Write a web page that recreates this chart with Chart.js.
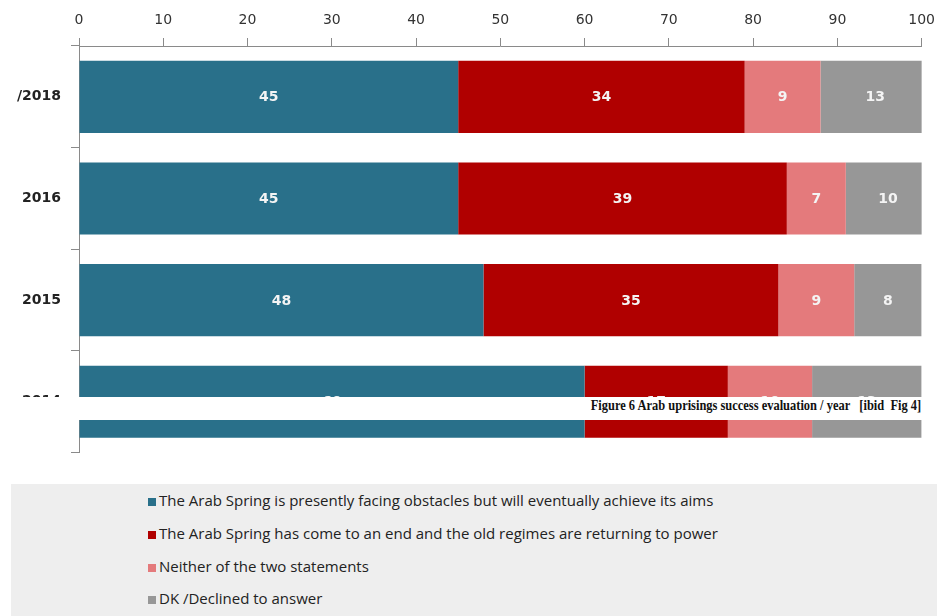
<html>
    <head>
        <meta name="viewport" content="width=device-width, initial-scale=1.0">
        <meta http-equiv="content-type" content="text/html; charset=UTF-8">
        <script src="https://cdn.jsdelivr.net/npm/chart.js"></script>
        <title>Arab uprisings success evaluation</title>
        <style>
            body { margin: 0; width: 937px; height: 616px; overflow: hidden; background: #fff; position: relative; }
            #wrap { position: absolute; left: 0; top: 0; width: 944px; height: 471px; }
            #caption { position: absolute; left: 0; top: 397px; width: 921px; padding-right: 16px; height: 23px;
                       background: #fff; text-align: right; white-space: pre; line-height: 23px; }
            #caption span { display: inline-block; transform: scaleX(0.83); transform-origin: right center;
                       font: bold 15px "Liberation Serif", "Times New Roman", serif; color: #111; }
            #legend { position: absolute; left: 11px; top: 484px; width: 926px; height: 132px; background: #eeeeee; }
            #legend div { position: absolute; left: 137px; height: 20px; line-height: 20px; white-space: nowrap;
                          font: 15px "Liberation Sans Narrow", "Open Sans", sans-serif; color: #222; }
            #legend span { display: inline-block; width: 8px; height: 8px; margin-right: 3px; vertical-align: 0px; }
        </style>
    </head>
    <body>
        <div id="wrap"><canvas id="bars"></canvas></div>
        <div id="caption"><span>Figure 6 Arab uprisings success evaluation / year   [ibid  Fig 4]</span></div>
        <div id="legend"></div>

        <script>
            // survey years (top label is cut off in the source)
            const years = ['/2018', '2016', '2015', '2014'];
            const achieve = [45, 45, 48, 60];
            const ended = [34, 39, 35, 17];
            const neither = [9, 7, 9, 10];
            const dk = [13, 10, 8, 13];

            const seriesNames = [
                'The Arab Spring is presently facing obstacles but will eventually achieve its aims',
                'The Arab Spring has come to an end and the old regimes are returning to power',
                'Neither of the two statements',
                'DK /Declined to answer'
            ];
            const colors = ['#29708a', '#b00000', '#e47a7c', '#979797'];
            const xTicks = [0, 10, 20, 30, 40, 50, 60, 70, 80, 90, 100];

            // values written in the middle of each segment
            const valueLabels = {
                id: 'valueLabels',
                afterDatasetsDraw(chart) {
                    const ctx = chart.ctx;
                    ctx.save();
                    ctx.font = 'bold 14px "DejaVu Sans"';
                    ctx.fillStyle = '#f4f4f4';
                    ctx.textAlign = 'center';
                    ctx.textBaseline = 'middle';
                    chart.data.datasets.forEach((ds, i) => {
                        chart.getDatasetMeta(i).data.forEach((bar, j) => {
                            const cx = (bar.x + bar.base) / 2;
                            ctx.fillText(ds.data[j], cx, bar.y + 1);
                        });
                    });
                    ctx.restore();
                }
            };

            const data = [achieve, ended, neither, dk];
            var chart = new Chart(document.getElementById('bars'), {
                type: 'bar',
                data: {
                    labels: years,
                    datasets: data.map((d, i) => ({
                        label: seriesNames[i],
                        data: d,
                        backgroundColor: colors[i],
                        borderWidth: 0,
                        categoryPercentage: 1,
                        barPercentage: 0.71
                    }))
                },
                options: {
                    indexAxis: 'y',
                    animation: false,
                    responsive: true,
                    maintainAspectRatio: false,
                    layout: { padding: { left: 0, right: 16, top: 0, bottom: 9 } },
                    plugins: { legend: { display: false }, tooltip: { enabled: false } },
                    scales: {
                        x: {
                            position: 'top',
                            stacked: true,
                            min: 0,
                            max: 100,
                            afterFit: s => { s.height = 46; },
                            afterBuildTicks: s => { s.ticks = xTicks.map(v => ({ value: v })); },
                            ticks: { font: { family: 'DejaVu Sans', size: 14 }, color: '#333', padding: 9, maxRotation: 0 },
                            grid: { drawOnChartArea: false, tickLength: 8, color: '#8a8a8a' },
                            border: { color: '#8a8a8a' }
                        },
                        y: {
                            stacked: true,
                            afterFit: s => { s.width = 79; },
                            ticks: { font: { family: 'DejaVu Sans', size: 14, weight: 'bold' }, color: '#222', padding: 10 },
                            grid: { drawOnChartArea: false, tickLength: 8, color: '#8a8a8a', offset: true },
                            border: { color: '#8a8a8a' }
                        }
                    }
                },
                plugins: [valueLabels]
            });

            // legend box below the chart, built from the datasets
            const rowsY = [16, 49, 82, 114];
            const legend = document.getElementById('legend');
            chart.data.datasets.forEach((ds, i) => {
                const row = document.createElement('div');
                row.style.top = (rowsY[i] - 10) + 'px';
                row.innerHTML = '<span style="background:' + ds.backgroundColor + '"></span>' + ds.label;
                legend.appendChild(row);
            });
        </script>
    </body>
</html>
